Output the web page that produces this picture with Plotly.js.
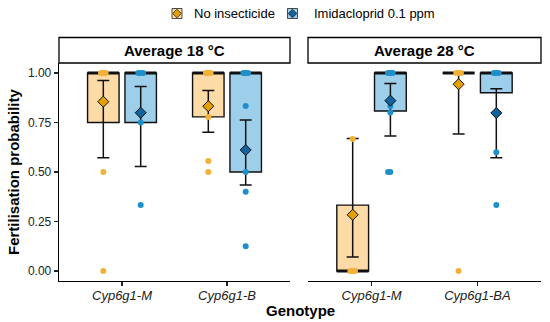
<!DOCTYPE html>
<html><head><meta charset="utf-8">
<script src="https://cdn.plot.ly/plotly-3.0.1.min.js"></script>
<style>html,body{margin:0;padding:0;background:#fff}#chart{width:550px;height:322px}</style>
</head><body><div id="chart"></div>
<script>
// ---------- data ----------
const panels = ['Average 18 °C', 'Average 28 °C'];
const genotypes18 = ['Cyp6g1-M', 'Cyp6g1-B'];
const genotypes28 = ['Cyp6g1-M', 'Cyp6g1-BA'];
const treatments = ['No insecticide', 'Imidacloprid 0.1 ppm'];

// 18 °C, No insecticide
const q1_18_no   = [0.75, 0.778];
const med_18_no  = [1.00, 1.00];
const q3_18_no   = [1.00, 1.00];
const mean_18_no = [0.855, 0.832];
const lo_18_no   = [0.572, 0.700];
const hi_18_no   = [0.962, 0.911];
const pts_18_no  = [[1, 1, 1, 1, 0.5, 0], [1, 1, 1, 1, 0.778, 0.556, 0.5]];

// 18 °C, Imidacloprid 0.1 ppm
const q1_18_imi   = [0.75, 0.50];
const med_18_imi  = [1.00, 1.00];
const q3_18_imi   = [1.00, 1.00];
const mean_18_imi = [0.799, 0.611];
const lo_18_imi   = [0.528, 0.434];
const hi_18_imi   = [0.932, 0.763];
const pts_18_imi  = [[1, 1, 1, 0.75, 0.333], [1, 1, 1, 0.833, 0.5, 0.4, 0.125]];

// 28 °C, No insecticide
const q1_28_no   = [0.00, 1.00];
const med_28_no  = [0.00, 1.00];
const q3_28_no   = [0.333, 1.00];
const mean_28_no = [0.284, 0.943];
const lo_28_no   = [0.071, 0.692];
const hi_28_no   = [0.669, 1.00];
const pts_28_no  = [[0, 0, 0, 0.667], [1, 1, 1, 0]];

// 28 °C, Imidacloprid 0.1 ppm
const q1_28_imi   = [0.808, 0.90];
const med_28_imi  = [1.00, 1.00];
const q3_28_imi   = [1.00, 1.00];
const mean_28_imi = [0.860, 0.798];
const lo_28_imi   = [0.682, 0.572];
const hi_28_imi   = [0.947, 0.920];
const pts_28_imi  = [[1, 1, 1, 0.833, 0.8, 0.5, 0.5], [1, 1, 1, 0.6, 0.333]];

const yTicks = [0, 0.25, 0.5, 0.75, 1];

// ---------- style ----------
const FONT = 'Liberation Sans, Arial, Helvetica, sans-serif';
const FILL = ['#FDDBA6', '#9DCFEA'];
const PT   = ['#F4B13A', '#1F8FCB'];
const DM   = ['#E69F00', '#12629F'];
const INK = '#111111';
const DODGE = 0.178, BOXW = 0.30, JIT = 0.022;
const JPAT = [0, -1, 1, -0.5, 0.5, -1.5, 1.5];

const W = 550, H = 322, ML = 59, MR = 9, MT = 63, MB = 41;
const PW = W - ML - MR, PH = H - MT - MB;
const PX = x => (x - ML) / PW;
const PY = y => (H - MB - y) / PH;

const traces = [];
const groups = [
  {ax: ['x', 'y'], t: 0, q1: q1_18_no, med: med_18_no, q3: q3_18_no, mean: mean_18_no, lo: lo_18_no, hi: hi_18_no, pts: pts_18_no},
  {ax: ['x', 'y'], t: 1, q1: q1_18_imi, med: med_18_imi, q3: q3_18_imi, mean: mean_18_imi, lo: lo_18_imi, hi: hi_18_imi, pts: pts_18_imi},
  {ax: ['x2', 'y2'], t: 0, q1: q1_28_no, med: med_28_no, q3: q3_28_no, mean: mean_28_no, lo: lo_28_no, hi: hi_28_no, pts: pts_28_no},
  {ax: ['x2', 'y2'], t: 1, q1: q1_28_imi, med: med_28_imi, q3: q3_28_imi, mean: mean_28_imi, lo: lo_28_imi, hi: hi_28_imi, pts: pts_28_imi},
];
const off = t => (t === 0 ? -DODGE : DODGE);
const centers = g => g.q1.map((_, i) => i + 1 + off(g.t));

// layer 1: boxes
groups.forEach(g => {
  traces.push({
    type: 'bar', xaxis: g.ax[0], yaxis: g.ax[1], showlegend: false, hoverinfo: 'skip',
    x: centers(g), base: g.q1, y: g.q3.map((v, i) => v - g.q1[i]), width: BOXW,
    marker: {color: FILL[g.t], line: {color: INK, width: 1.4}}
  });
});
// layer 2: medians
groups.forEach(g => {
  const xs = [], ys = [];
  centers(g).forEach((c, i) => { xs.push(c - BOXW / 2, c + BOXW / 2, null); ys.push(g.med[i], g.med[i], null); });
  traces.push({type: 'scatter', mode: 'lines', xaxis: g.ax[0], yaxis: g.ax[1], showlegend: false, hoverinfo: 'skip',
    x: xs, y: ys, line: {color: INK, width: 3}});
});
// layer 3: error bars
groups.forEach(g => {
  traces.push({type: 'scatter', mode: 'markers', xaxis: g.ax[0], yaxis: g.ax[1], showlegend: false, hoverinfo: 'skip',
    x: centers(g), y: g.mean, marker: {size: 1, color: 'rgba(0,0,0,0)'},
    error_y: {type: 'data', symmetric: false, array: g.hi.map((v, i) => v - g.mean[i]),
      arrayminus: g.mean.map((v, i) => v - g.lo[i]), color: INK, thickness: 1.5, width: 6}});
});
// layer 4: raw points
groups.forEach(g => {
  const xs = [], ys = [];
  centers(g).forEach((c, i) => {
    const seen = {};
    g.pts[i].forEach(v => {
      const k = seen[v] || 0; seen[v] = k + 1;
      xs.push(c + JPAT[k % JPAT.length] * JIT); ys.push(v);
    });
  });
  traces.push({type: 'scatter', mode: 'markers', xaxis: g.ax[0], yaxis: g.ax[1], showlegend: false, hoverinfo: 'skip',
    x: xs, y: ys, marker: {size: 6, color: PT[g.t]}});
});
// layer 5: mean diamonds
groups.forEach(g => {
  traces.push({type: 'scatter', mode: 'markers', xaxis: g.ax[0], yaxis: g.ax[1], showlegend: false, hoverinfo: 'skip',
    x: centers(g), y: g.mean, marker: {symbol: 'diamond', size: 8.5, color: DM[g.t], line: {color: INK, width: 1}}});
});

const xAxisBase = {
  range: [0.4, 2.6], tickvals: [1, 2], ticks: 'outside', ticklen: 4, tickwidth: 1.2, tickcolor: '#222',
  showline: true, linecolor: '#000', linewidth: 1.3, showgrid: false, zeroline: false, ticklabelstandoff: -2,
  tickfont: {family: FONT, size: 13, color: '#222'}, fixedrange: true
};
const dom1 = [0, PX(290)], dom2 = [PX(308), 1];

const shapes = [], annotations = [];
[dom1, dom2].forEach((d, i) => {
  shapes.push({type: 'rect', xref: 'paper', yref: 'paper', x0: d[0], x1: d[1], y0: 1, y1: PY(37.5),
    line: {color: '#000', width: 1.3}, fillcolor: '#fff'});
  annotations.push({xref: 'paper', yref: 'paper', x: (d[0] + d[1]) / 2, y: PY(50.5), text: '<b>' + panels[i] + '</b>',
    showarrow: false, xanchor: 'center', yanchor: 'middle', font: {family: FONT, size: 15, color: '#000'}});
});

// legend (drawn manually: box-coloured key with mean diamond)
const keyCx = [177, 292.5], textX = [191.5, 311.5], keyCy = 13.5, ks = 5;
treatments.forEach((tname, t) => {
  const cx = keyCx[t];
  shapes.push({type: 'rect', xref: 'paper', yref: 'paper', x0: PX(cx - ks), x1: PX(cx + ks), y0: PY(keyCy + ks), y1: PY(keyCy - ks),
    line: {color: '#222', width: 0.8}, fillcolor: FILL[t]});
  const d = 4.3;
  shapes.push({type: 'path', xref: 'paper', yref: 'paper',
    path: `M ${PX(cx)} ${PY(keyCy - d)} L ${PX(cx + d)} ${PY(keyCy)} L ${PX(cx)} ${PY(keyCy + d)} L ${PX(cx - d)} ${PY(keyCy)} Z`,
    line: {color: '#222', width: 0.8}, fillcolor: DM[t]});
  annotations.push({xref: 'paper', yref: 'paper', x: PX(textX[t]), y: PY(keyCy), text: tname, showarrow: false,
    xanchor: 'left', yanchor: 'middle', font: {family: FONT, size: 13, color: '#000'}});
});

annotations.push({xref: 'paper', yref: 'paper', x: PX(300), y: PY(310), text: '<b>Genotype</b>', showarrow: false,
  xanchor: 'center', yanchor: 'middle', font: {family: FONT, size: 15, color: '#000'}});
annotations.push({xref: 'paper', yref: 'paper', x: PX(13), y: PY(172), text: '<b>Fertilisation probability</b>', showarrow: false,
  textangle: -90, xanchor: 'center', yanchor: 'middle', font: {family: FONT, size: 15, color: '#000'}});

const layout = {
  width: W, height: H, margin: {l: ML, r: MR, t: MT, b: MB, pad: 0},
  paper_bgcolor: '#fff', plot_bgcolor: 'rgba(0,0,0,0)', barmode: 'overlay', showlegend: false,
  font: {family: FONT},
  xaxis: Object.assign({}, xAxisBase, {domain: dom1, anchor: 'y', ticktext: genotypes18.map(g => '<i>' + g + '</i>')}),
  xaxis2: Object.assign({}, xAxisBase, {domain: dom2, anchor: 'y2', ticktext: genotypes28.map(g => '<i>' + g + '</i>')}),
  yaxis: {range: [-0.05, 1.05], tickvals: yTicks, ticktext: yTicks.map(v => v.toFixed(2)), ticks: 'outside', ticklen: 4,
    tickwidth: 1.2, tickcolor: '#222', showline: true, linecolor: '#000', linewidth: 1.3, showgrid: false, zeroline: false,
    anchor: 'x', tickfont: {family: FONT, size: 12, color: '#222'}, fixedrange: true},
  yaxis2: {range: [-0.05, 1.05], anchor: 'x2', matches: 'y', showticklabels: false, ticks: '', showline: false,
    showgrid: false, zeroline: false, fixedrange: true},
  shapes: shapes, annotations: annotations
};

Plotly.newPlot('chart', traces, layout, {displayModeBar: false, staticPlot: true});
</script>
</body></html>
